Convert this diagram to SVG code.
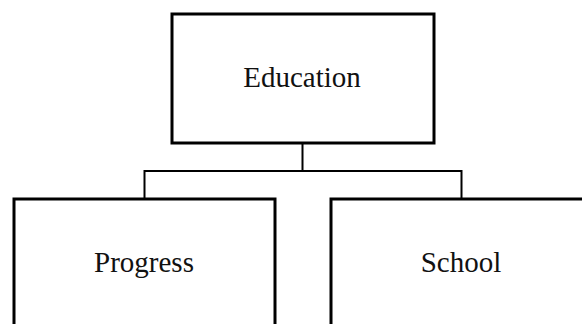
<svg xmlns="http://www.w3.org/2000/svg" width="582" height="324" viewBox="0 0 582 324">
<style>
.box{fill:#fff;stroke:#000;stroke-width:3}
.lbl{font-family:"Liberation Serif","Times New Roman",serif;font-size:29px;fill:#111;text-anchor:middle}
.conn{fill:none;stroke:#000;stroke-width:2}
</style>
<rect width="582" height="324" fill="#fff"/>
<g id="connectors">
<path class="conn" d="M302.5 143 V171 M144.5 171 H461.5 M144.5 170 V198 M461.5 170 V198"/>
</g>
<g id="education">
<rect class="box" x="172" y="14" width="262" height="129"/>
<text class="lbl" x="302" y="87">Education</text>
</g>
<g id="progress">
<rect class="box" x="14" y="199" width="261" height="140"/>
<text class="lbl" x="144" y="272">Progress</text>
</g>
<g id="school">
<rect class="box" x="331" y="199" width="262" height="140"/>
<text class="lbl" x="461" y="272">School</text>
</g>
</svg>
